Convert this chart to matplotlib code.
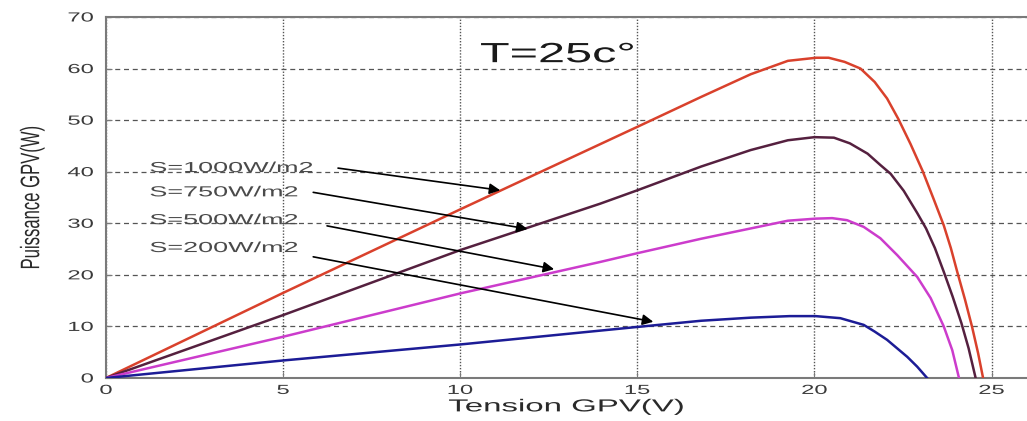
import matplotlib
matplotlib.use("Agg")
import matplotlib.pyplot as plt
from matplotlib import patheffects
from matplotlib.transforms import Affine2D

plt.rcParams['font.family'] = ['Liberation Sans', 'DejaVu Sans']

# P-V curves of the PV generator at T = 25 C
v_1000 = [0, 5, 10, 15.0, 16.8, 18.2, 19.25, 20.05, 20.4, 20.85, 21.3, 21.7, 22.05,
          22.37, 22.71, 23.05, 23.37, 23.65, 23.85, 24.03, 24.25, 24.45, 24.62, 24.76]
p_1000 = [0, 16.5, 32.7, 48.7, 54.5, 58.9, 61.5, 62.1, 62.1, 61.3, 60.0, 57.4, 54.2,
          50.2, 45.4, 40.2, 34.6, 29.6, 25.2, 20.6, 15.2, 9.9, 4.8, 0]

v_750 = [0, 5, 10, 13.95, 15.0, 16.8, 18.2, 19.25, 20.0, 20.55, 21.0, 21.5, 21.86, 22.15,
         22.52, 22.9, 23.15, 23.4, 23.65, 23.9, 24.15, 24.35, 24.55]
p_750 = [0, 12.2, 24.8, 33.8, 36.4, 41.0, 44.2, 46.1, 46.7, 46.6, 45.5, 43.5, 41.3, 39.6,
         36.3, 32.0, 29.0, 25.2, 20.6, 15.8, 10.6, 5.8, 0]

v_500 = [0, 5, 10, 13.95, 15.0, 16.8, 18.2, 19.25, 20.03, 20.5, 20.92, 21.39, 21.86, 22.34,
         22.9, 23.28, 23.65, 23.89, 24.08]
p_500 = [0, 8.0, 16.4, 22.5, 24.2, 27.0, 29.0, 30.5, 30.9, 31.0, 30.6, 29.3, 27.1, 23.8,
         19.6, 15.5, 10.0, 5.4, 0]

v_200 = [0, 5, 10, 15.0, 16.8, 18.2, 19.3, 20.03, 20.73, 21.39, 21.7, 22.05, 22.62,
         22.9, 23.18]
p_200 = [0, 3.4, 6.5, 9.9, 11.1, 11.7, 12.0, 12.0, 11.6, 10.3, 9.0, 7.4, 4.1,
         2.2, 0]

curve_colors = ['#d9412c', '#55203f', '#cc3ccc', '#1c1c96']
irradiance_labels = ['S=1000W/m2', 'S=750W/m2', 'S=500W/m2', 'S=200W/m2']

x_ticks = [0, 5, 10, 15, 20, 25]
y_ticks = [0, 10, 20, 30, 40, 50, 60, 70]

# where the labels sit and where their arrows go (data coords)
label_y = [40.7, 36.0, 30.6, 25.2]
arrow_from = [(6.55, 40.7), (5.85, 36.0), (6.24, 29.5), (5.85, 23.5)]
arrow_to = [(11.13, 36.4), (11.9, 28.9), (12.65, 21.1), (15.45, 10.9)]


class Stretch(patheffects.AbstractPathEffect):
    """Widen glyphs sideways - the reference is a horizontally stretched screenshot."""

    def __init__(self, sx=1.8, anchor='center'):
        super().__init__()
        self.sx = sx
        self.anchor = anchor

    def draw_path(self, renderer, gc, tpath, affine, rgbFace=None):
        ext = tpath.get_extents(affine)
        if self.anchor == 'left':
            x0 = ext.x0
        elif self.anchor == 'right':
            x0 = ext.x1
        else:
            x0 = (ext.x0 + ext.x1) / 2
        wide = affine + Affine2D().translate(-x0, 0).scale(self.sx, 1).translate(x0, 0)
        renderer.draw_path(gc, tpath, wide, rgbFace)


fig = plt.figure(figsize=(10.27, 4.21), dpi=100)
ax = fig.add_axes([106 / 1027, 43 / 421, 921 / 1027, 361 / 421])

for v, p, c in zip([v_1000, v_750, v_500, v_200], [p_1000, p_750, p_500, p_200], curve_colors):
    ax.plot(v, p, color=c, lw=1.8, solid_joinstyle='round', zorder=3)

ax.set_xlim(0, 26)
ax.set_ylim(0, 70)
ax.set_xticks(x_ticks)
ax.set_yticks(y_ticks)

ax.xaxis.grid(True, linestyle=(0, (1, 1.2)), color='#555555', lw=1.0)
ax.yaxis.grid(True, linestyle=(0, (4, 3)), color='#555555', lw=0.9)
ax.set_axisbelow(True)

for side in ['left', 'bottom', 'top']:
    ax.spines[side].set_color('#7a7a7a')
    ax.spines[side].set_linewidth(1.5)
ax.spines['right'].set_visible(False)
ax.tick_params(direction='in', length=4, color='#7a7a7a', labelcolor='#3a3a3a', labelsize=9.5)
ax.tick_params(axis='x', pad=5)
ax.tick_params(axis='y', pad=9)

for lbl in ax.get_xticklabels():
    lbl.set_path_effects([Stretch(1.8, 'center')])
for lbl in ax.get_yticklabels():
    lbl.set_path_effects([Stretch(1.8, 'right')])

ax.set_xlabel('Tension GPV(V)', fontsize=12.5, color='#2a2a2a', va='center')
ax.xaxis.set_label_coords(0.5, -0.08)
ax.xaxis.label.set_path_effects([Stretch(1.9, 'center')])

ax.set_ylabel('Puissance GPV(W)', fontsize=12, color='#2a2a2a', va='center')
ax.yaxis.set_label_coords(-0.0803, 0.5)
ax.yaxis.label.set_path_effects([Stretch(1.6, 'center')])

ax.text(10.57, 62.6, 'T=25c°', fontsize=20, color='#1a1a1a', ha='left', va='center',
        path_effects=[Stretch(1.75, 'left')])

for txt, y, a, b in zip(irradiance_labels, label_y, arrow_from, arrow_to):
    ax.text(1.24, y, txt, fontsize=10.5, color='#4a4a4a', ha='left', va='center',
            path_effects=[Stretch(1.85, 'left')])
    ax.annotate('', xy=b, xytext=a,
                arrowprops=dict(arrowstyle='-|>', color='black', lw=1.2,
                                mutation_scale=16, shrinkA=0, shrinkB=0))

fig.savefig('out.png', dpi=100)
